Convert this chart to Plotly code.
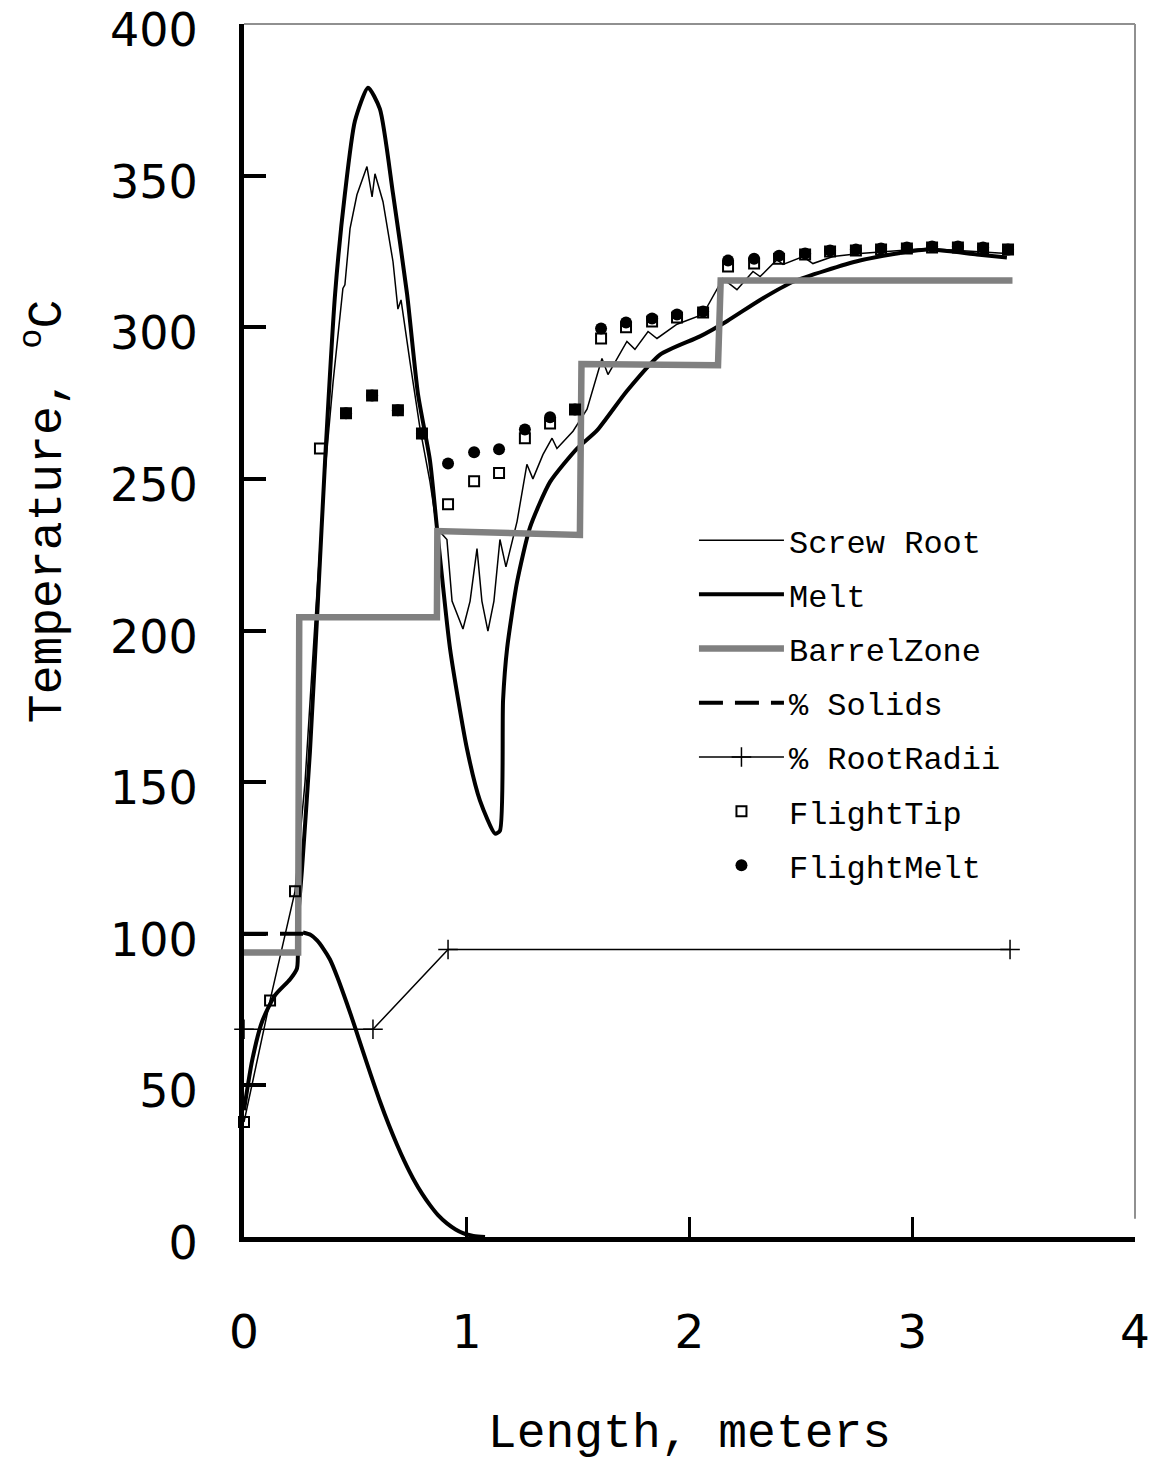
import plotly.graph_objects as go

# ---------------- data ----------------
root_x = [0, 0.117, 0.229, 0.274, 0.319, 0.364, 0.4, 0.444, 0.453, 0.476, 0.507, 0.552, 0.575, 0.588,
          0.624, 0.669, 0.691, 0.705, 0.745, 0.79, 0.835, 0.866, 0.911, 0.934, 0.983, 1.015, 1.046,
          1.068, 1.095, 1.122, 1.149, 1.176, 1.226, 1.27, 1.297, 1.342, 1.383, 1.405, 1.477, 1.54,
          1.607, 1.634, 1.719, 1.755, 1.814, 1.854, 1.944, 2.06, 2.15, 2.213, 2.285, 2.317, 2.393,
          2.42, 2.51, 2.554, 2.644, 2.765, 3.066, 3.425]
root_y = [37.9, 78, 114, 150, 203, 252.5, 282, 312.8, 314, 332.5, 343.7, 353, 343, 350.6,
          341.4, 321.6, 306, 309, 288.7, 266.7, 249, 233.7, 230, 209.7, 200.5, 209.7, 227,
          209.7, 199.8, 209.7, 230, 221, 236, 254.8, 250, 258, 263.4, 260, 265.7, 273,
          289.7, 284.4, 295.3, 292.7, 298.6, 296.3, 301, 304.2, 316, 312.4, 318.4, 316.7, 322.3,
          320.7, 323.3, 321, 323.3, 324.3, 326, 324.3]

melt_x = [0, 0.036, 0.081, 0.139, 0.207, 0.238, 0.242, 0.26, 0.296, 0.332, 0.364, 0.409, 0.453,
          0.498, 0.557, 0.61, 0.669, 0.732, 0.781, 0.835, 0.866, 0.925, 1.001, 1.059, 1.127, 1.149,
          1.163, 1.181, 1.226, 1.284, 1.374, 1.495, 1.585, 1.719, 1.868, 2.047, 2.168, 2.317,
          2.465, 2.765, 3.066, 3.29, 3.425]
melt_y = [41.8, 58, 71, 79.7, 85, 88.6, 104, 121, 160, 210, 256, 311, 344,
          368, 379, 372, 344, 311, 278, 256, 234, 194, 161, 144, 133, 134,
          177, 194, 216, 234, 249, 260, 266, 279, 291, 297, 302, 309,
          315, 322, 325.6, 324, 323]

barrel_x = [0, 0.243, 0.248, 0.866, 0.868, 1.508, 1.515, 2.128, 2.14, 3.45]
barrel_y = [93.8, 93.8, 204.4, 204.4, 232.8, 231.5, 287.9, 287.5, 315.4, 315.4]

solids_flat_x = [0, 0.265]
solids_flat_y = [100, 100]
solids_curve_x = [0.265, 0.30, 0.328, 0.355, 0.386, 0.42, 0.462, 0.50, 0.534, 0.57, 0.611, 0.65,
                  0.687, 0.72, 0.759, 0.80, 0.835, 0.87, 0.911, 0.95, 0.983, 1.03, 1.082]
solids_curve_y = [100.4, 99.6, 97.8, 95.2, 91.5, 85.5, 77, 68.8, 61.2, 53.3, 44.6, 37,
                  30.4, 25, 19.3, 14.2, 10.5, 7.3, 4.5, 2.5, 1.3, 0.35, 0]

radii_x = [0, 0.579, 0.916, 3.439]
radii_y = [68.5, 68.5, 94.8, 94.8]

tip_x = [0, 0.117, 0.229, 0.341, 0.458, 0.575, 0.691, 0.799, 0.916, 1.033, 1.145, 1.261, 1.374,
         1.486, 1.603, 1.715, 1.832, 1.944, 2.061, 2.173, 2.290, 2.402, 2.519, 2.631, 2.747,
         2.860, 2.976, 3.089, 3.205, 3.318, 3.430]
tip_y = [37.9, 78, 114, 260, 271.6, 277.5, 272.6, 265, 241.6, 249.2, 251.9, 263.4, 268.3,
         272.9, 296.3, 300, 301.9, 303.2, 304.9, 320, 321, 322.6, 324, 325, 325.3,
         325.6, 326, 326.3, 326.3, 326, 325.6]

fmelt_x = [0.458, 0.575, 0.691, 0.799, 0.916, 1.033, 1.145, 1.261, 1.374,
           1.486, 1.603, 1.715, 1.832, 1.944, 2.061, 2.173, 2.290, 2.402, 2.519, 2.631, 2.747,
           2.860, 2.976, 3.089, 3.205, 3.318, 3.430]
fmelt_y = [271.6, 277.5, 272.6, 265, 255.1, 258.8, 259.8, 266.3, 270.3,
           272.9, 299.6, 301.6, 302.9, 304.2, 305.2, 322, 322.6, 323.6, 324.3, 325.3, 325.6,
           326, 326.3, 326.6, 326.6, 326.3, 325.6]

x_ticks = [0, 1, 2, 3, 4]
y_ticks = [0, 50, 100, 150, 200, 250, 300, 350, 400]

FONT = "Liberation Mono"
TICKFONT = "DejaVu Sans"

fig = go.Figure()
fig.add_trace(go.Scatter(x=root_x, y=root_y, mode="lines", name="Screw Root",
                         line=dict(color="black", width=1.5), legendgroup="a"))
fig.add_trace(go.Scatter(x=melt_x, y=melt_y, mode="lines", name="Melt",
                         line=dict(color="black", width=4, shape="spline", smoothing=0.6),
                         legendgroup="b"))
fig.add_trace(go.Scatter(x=barrel_x, y=barrel_y, mode="lines", name="BarrelZone",
                         line=dict(color="#808080", width=6.5), legendgroup="c"))
fig.add_trace(go.Scatter(x=solids_flat_x, y=solids_flat_y, mode="lines", name="% Solids",
                         line=dict(color="black", width=4, dash="24px,12px"), legendgroup="d"))
fig.add_trace(go.Scatter(x=solids_curve_x, y=solids_curve_y, mode="lines", showlegend=False,
                         line=dict(color="black", width=4, shape="spline", smoothing=0.8),
                         legendgroup="d"))
fig.add_trace(go.Scatter(x=radii_x, y=radii_y, mode="lines+markers", name="% RootRadii",
                         line=dict(color="black", width=1.5),
                         marker=dict(symbol="cross-thin", size=14, color="black",
                                     line=dict(color="black", width=1.5)),
                         cliponaxis=False, legendgroup="e"))
fig.add_trace(go.Scatter(x=tip_x, y=tip_y, mode="markers", name="FlightTip",
                         marker=dict(symbol="square-open", size=10, color="black",
                                     line=dict(color="black", width=2)),
                         cliponaxis=False, legendgroup="f"))
fig.add_trace(go.Scatter(x=fmelt_x, y=fmelt_y, mode="markers", name="FlightMelt",
                         marker=dict(symbol="circle", size=12, color="black"),
                         cliponaxis=False, legendgroup="g"))

fig.update_layout(
    width=1159, height=1464,
    margin=dict(l=244, r=24, t=24, b=227),
    plot_bgcolor="white", paper_bgcolor="white",
    font=dict(family=FONT, color="black"),
    legend=dict(x=0.505, y=0.597, xanchor="left", yanchor="top",
                font=dict(family=FONT, size=32, color="black"),
                bgcolor="rgba(0,0,0,0)", tracegroupgap=9.6, itemwidth=85,
                traceorder="grouped"),
    shapes=[
        dict(type="line", xref="paper", yref="paper", x0=0, x1=1, y0=1, y1=1,
             line=dict(color="#909090", width=2)),
        dict(type="line", xref="paper", yref="paper", x0=1, x1=1, y0=0.015, y1=1,
             line=dict(color="#909090", width=2)),
    ],
    annotations=[
        dict(text="Temperature, <sup>o</sup>C", xref="paper", yref="paper",
             x=-0.225, y=0.598, xanchor="center", yanchor="middle", textangle=-90,
             showarrow=False, font=dict(family=FONT, size=48, color="black")),
    ],
)
fig.update_xaxes(range=[0, 4], tickvals=x_ticks, showgrid=False, zeroline=False,
                 showline=True, linecolor="black", linewidth=5, automargin=False,
                 ticks="inside", ticklen=20, tickwidth=3, tickcolor="black",
                 ticklabelstandoff=50, ticklabeloverflow="allow",
                 tickfont=dict(family=TICKFONT, size=47, color="black"),
                 title=dict(text="Length, meters", font=dict(family=FONT, size=48, color="black"),
                            standoff=56))
fig.update_yaxes(range=[0, 400], tickvals=y_ticks, showgrid=False, zeroline=False,
                 showline=True, linecolor="black", linewidth=5, automargin=False,
                 ticks="inside", ticklen=22, tickwidth=4, tickcolor="black",
                 ticklabelstandoff=32, ticklabeloverflow="allow", ticklabelshift=6,
                 tickfont=dict(family=TICKFONT, size=46, color="black"))

fig.write_html("out.html")
